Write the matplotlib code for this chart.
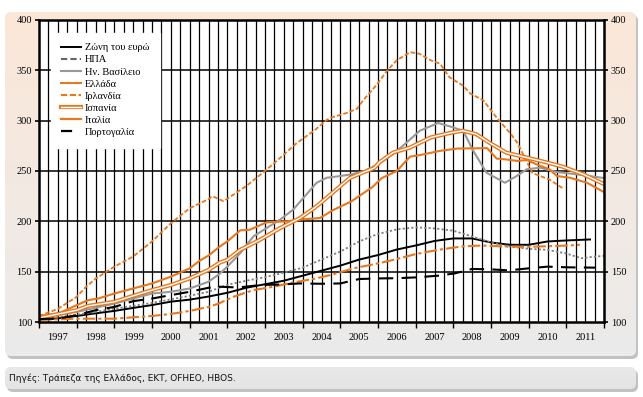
import numpy as np
import matplotlib
matplotlib.use("Agg")
import matplotlib.pyplot as plt
from matplotlib.patches import FancyBboxPatch
from matplotlib.lines import Line2D
from matplotlib.legend_handler import HandlerTuple

# --- data (index) ---
euro_t = [1997.0, 1997.5, 1998.0, 1998.5, 1999.0, 1999.5, 2000.0, 2000.5, 2001.0, 2001.5,
          2002.0, 2002.5, 2003.0, 2003.5, 2004.0, 2004.5, 2005.0, 2005.5, 2006.0, 2006.5,
          2007.0, 2007.5, 2008.0, 2008.5, 2009.0, 2009.5, 2010.0, 2010.5, 2011.0, 2011.63]
euro_v = [102.5, 103.6, 106, 108.6, 111, 114, 116.8, 120.2, 122.2, 125.3,
          129, 134, 137.5, 141, 146, 151, 156, 162, 166.5, 172,
          176, 180.5, 183, 183, 179, 176.7, 176.7, 180, 181, 182]

usa_t = [1997.0, 1997.5, 1998.0, 1998.5, 1999.0, 1999.5, 2000.0, 2000.5, 2001.0, 2001.5,
         2002.0, 2002.5, 2003.0, 2003.5, 2004.0, 2004.5, 2005.0, 2005.5, 2006.0, 2006.5,
         2007.0, 2007.5, 2008.0, 2008.5, 2009.0, 2009.5, 2010.0, 2010.5, 2011.0, 2011.4,
         2011.75, 2012.0]
usa_v = [103, 105, 107.3, 110, 113.3, 116, 119, 122.5, 126, 130,
         137, 141, 144.5, 149, 154, 162, 170, 180, 187.5, 192,
         194, 193, 190.7, 185, 179, 175, 172.7, 171.7, 168, 163.3,
         165, 165.7]

uk_t = [1997.0, 1998.0, 1999.0, 2000.0, 2000.5, 2001.0, 2001.5, 2001.8, 2002.0, 2002.34,
        2002.69, 2003.04, 2003.4, 2003.75, 2004.1, 2004.37, 2004.64, 2005.0, 2005.3, 2005.65,
        2006.0, 2006.4, 2006.76, 2007.11, 2007.6, 2007.91, 2008.26, 2008.53, 2008.88, 2009.37,
        2009.68, 2009.95, 2010.3, 2010.74, 2011.27, 2012.0]
uk_v = [105, 110, 118.3, 128.3, 130, 133.3, 140, 148, 155, 168.3,
        185, 193.3, 201.7, 211.7, 226.7, 238.3, 243.3, 245, 246.7, 250,
        256.7, 266.7, 278.3, 290, 297.7, 294.3, 290, 270, 248.3, 238.3,
        245, 251.7, 253.3, 249, 246.7, 243]

greece_t = [1997.0, 1997.5, 1998.0, 1998.3, 1998.57, 1999.0, 1999.5, 2000.0, 2000.5, 2001.0,
            2001.27, 2001.5, 2001.8, 2002.0, 2002.34, 2002.6, 2003.04, 2003.58, 2003.93, 2004.46,
            2004.8, 2005.3, 2005.85, 2006.1, 2006.5, 2006.85, 2007.1, 2007.65, 2008.1, 2008.9,
            2009.15, 2009.4, 2009.7, 2009.95, 2010.2, 2010.55, 2010.75, 2011.1, 2011.55, 2012.0]
greece_v = [106, 108.3, 116.7, 121.7, 123.3, 128.3, 133.3, 138.3, 145, 153.3,
            161, 166, 175, 180, 191, 191.7, 199, 200, 201.7, 203.3,
            211, 220, 234, 243, 250, 264.3, 265.7, 270, 272.3, 272.7,
            262.3, 261.5, 260, 261, 256.7, 251.7, 245, 243.3, 238.3, 229]

ireland_t = [1997.0, 1997.5, 1998.0, 1998.25, 1998.5, 1998.75, 1999.0, 1999.5, 2000.0, 2000.5,
             2001.0, 2001.5, 2001.6, 2001.9, 2002.5, 2003.0, 2003.4, 2003.85, 2004.3, 2004.65,
             2004.75, 2005.2, 2005.45, 2005.6, 2005.95, 2006.25, 2006.5, 2006.85, 2007.1, 2007.4,
             2007.65, 2007.9, 2008.25, 2008.45, 2008.8, 2009.15, 2009.5, 2009.7, 2009.9, 2010.1,
             2010.55, 2010.9]
ireland_v = [106, 113, 125, 135, 143, 149, 155, 165, 180, 198,
             213, 222, 225, 220, 235, 250, 263, 278, 290, 301,
             303, 308, 312, 320, 335, 350, 360, 368, 366.5, 360,
             356.5, 343, 335, 327, 320, 303, 288, 278, 263, 248,
             241.5, 233]

spain_t = [1997.0, 1998.0, 1998.3, 1999.0, 1999.5, 2000.0, 2000.5, 2001.0, 2001.5, 2001.8,
           2002.0, 2002.34, 2002.87, 2003.4, 2003.93, 2004.3, 2004.5, 2004.75, 2005.0, 2005.25,
           2005.5, 2005.9, 2006.05, 2006.4, 2006.85, 2007.4, 2007.9, 2008.25, 2008.6, 2008.95,
           2009.4, 2009.95, 2010.5, 2010.9, 2011.45, 2012.0]
spain_v = [104, 111.7, 116, 120, 126, 131.7, 136.7, 143.3, 151.7, 159,
           161.7, 171.7, 181.7, 193.3, 203.3, 213, 219, 227, 235, 243,
           247, 253, 259, 268.3, 273.3, 283.3, 287.7, 290, 286.7, 278.3,
           268.3, 263.3, 258.3, 254.3, 246.7, 237]

italy_t = [1997.0, 1998.0, 1999.0, 2000.0, 2000.5, 2001.0, 2001.5, 2001.75, 2002.16, 2002.69,
           2003.22, 2003.75, 2004.28, 2004.81, 2005.34, 2005.88, 2006.41, 2006.98, 2007.6, 2008.22,
           2008.75, 2009.37, 2009.99, 2010.52, 2011.05, 2011.36]
italy_v = [102, 103.3, 103.3, 106, 108, 111, 115, 118, 125, 131.7,
           135, 139.3, 142.7, 147.3, 153.3, 157.3, 161.7, 167.3, 171.7, 175,
           176, 175, 174.7, 175.3, 176, 176.7]

portugal_t = [1997.0, 1997.5, 1998.0, 1998.5, 1999.0, 1999.5, 2000.0, 2000.5, 2001.0, 2001.5,
              2001.8, 2002.3, 2002.87, 2003.4, 2003.93, 2004.46, 2005.0, 2005.5, 2006.05, 2006.5,
              2007.0, 2007.6, 2008.04, 2008.5, 2009.0, 2009.46, 2010.0, 2010.5, 2011.05, 2011.76]
portugal_v = [103, 103.3, 106.7, 111.7, 115, 120.7, 123.3, 126.7, 130, 134,
              135, 134.3, 136.7, 137.3, 138.3, 138, 138.3, 142.7, 143.3, 143.5,
              144.3, 146, 148.3, 152.7, 152.3, 151.3, 153.3, 155, 154.3, 154]

years = list(range(1997, 2012))
labels = ["Ζώνη του ευρώ", "ΗΠΑ", "Ην. Βασίλειο", "Ελλάδα",
          "Ιρλανδία", "Ισπανία", "Ιταλία", "Πορτογαλία"]
source = "Πηγές: Τράπεζα της Ελλάδος, ΕΚΤ, OFHEO, HBOS."

ORANGE = "#e8781e"
W, H = 643, 397

fig = plt.figure(figsize=(W / 100, H / 100), dpi=100)

# background panels
bg = fig.add_axes([0, 0, 1, 1], zorder=-10)
bg.set_xlim(0, W)
bg.set_ylim(H, 0)
bg.axis("off")

def panel(x0, y0, x1, y1, top, bottom):
    sh = FancyBboxPatch((x0 + 2, y0 + 3), x1 - x0, y1 - y0,
                        boxstyle="round,pad=0,rounding_size=6",
                        fc="#9a9a9a", ec="none", alpha=0.6)
    bg.add_patch(sh)
    p = FancyBboxPatch((x0, y0), x1 - x0, y1 - y0,
                       boxstyle="round,pad=0,rounding_size=6",
                       fc="none", ec="none")
    bg.add_patch(p)
    c0 = np.array(matplotlib.colors.to_rgb(top))
    c1 = np.array(matplotlib.colors.to_rgb(bottom))
    f = np.linspace(0, 1, 64)[:, None]
    grad = (c0 * (1 - f) + c1 * f)[:, None, :]
    im = bg.imshow(grad, extent=(x0, x1, y1, y0), aspect="auto", zorder=1)
    im.set_clip_path(p)

panel(5, 12, 636, 356, "#fbe7d8", "#ebebeb")
panel(5, 367, 636, 389, "#e9e9e9", "#e4e4e4")
bg.text(9, 378, source, fontsize=6.5, family="DejaVu Sans", va="center", ha="left", color="#111111")

# main chart
ax = fig.add_axes([39 / W, 1 - 322 / H, 565 / W, 302 / H])
ax.set_facecolor("white")
ax.set_xlim(1997, 2012)
ax.set_ylim(100, 400)

for q in np.arange(1997.25, 2012, 0.25):
    ax.axvline(q, color="black", lw=0.9, zorder=1)
for yv in range(150, 400, 50):
    ax.axhline(yv, color="black", lw=1.1, zorder=1)

l_euro, = ax.plot(euro_t, euro_v, color="black", lw=1.4, zorder=5)
l_usa, = ax.plot(usa_t, usa_v, color="#7f7f7f", lw=1.3, ls=(0, (1.2, 1.2)), zorder=5)
l_uk, = ax.plot(uk_t, uk_v, color="#999999", lw=1.5, zorder=5)
l_gr, = ax.plot(greece_t, greece_v, color=ORANGE, lw=1.5, zorder=5)
l_ie, = ax.plot(ireland_t, ireland_v, color=ORANGE, lw=1.3, ls=(0, (2.5, 1.2)), zorder=5)
l_es1, = ax.plot(spain_t, spain_v, color=ORANGE, lw=3.0, zorder=5)
l_es2, = ax.plot(spain_t, spain_v, color="white", lw=1.0, zorder=5)
l_it, = ax.plot(italy_t, italy_v, color=ORANGE, lw=1.5, ls=(0, (6, 1.5, 1.5, 1.5)), zorder=5)
l_pt, = ax.plot(portugal_t, portugal_v, color="black", lw=1.5, ls=(0, (7, 4)), zorder=5)

# legend samples drawn as in the original key
k_usa = Line2D([], [], color="#666666", lw=1.5, ls=(0, (3, 1.5)))
k_ie = Line2D([], [], color=ORANGE, lw=1.5, ls=(0, (3, 1.2)))
k_it = Line2D([], [], color=ORANGE, lw=1.6)
k_pt = Line2D([], [], color="black", lw=1.6, ls=(0, (5, 4)))
handles = [l_euro, k_usa, l_uk, l_gr, k_ie, (l_es1, l_es2), k_it, k_pt]
leg = ax.legend(handles, labels, loc="upper left", bbox_to_anchor=(0.0205, 0.958),
                borderaxespad=0, frameon=True, fancybox=False, framealpha=1,
                edgecolor="white", facecolor="white",
                prop={"family": "Liberation Serif", "size": 7.5},
                handlelength=1.9, handletextpad=0.4, labelspacing=0.27,
                borderpad=1.0, handler_map={tuple: HandlerTuple(ndivide=1, pad=0)})
leg.set_zorder(10)

# axes decoration
for s in ax.spines.values():
    s.set_linewidth(1.8)
    s.set_zorder(6)
ax.set_yticks(range(100, 401, 50))
ax.tick_params(axis="y", which="both", direction="out", length=3, width=1.2,
               left=True, right=True, labelleft=True, labelright=True,
               labelsize=7.5, pad=2)
ax.set_xticks([y + 0.5 for y in years])
ax.set_xticklabels([str(y) for y in years])
ax.set_xticks(range(1997, 2013), minor=True)
ax.tick_params(axis="x", which="major", length=0, labelsize=7.5, pad=8)
ax.tick_params(axis="x", which="minor", length=4, width=1.0, direction="out")
for lab in ax.get_xticklabels() + ax.get_yticklabels():
    lab.set_family("Liberation Serif")

fig.savefig("out.png", dpi=100)
